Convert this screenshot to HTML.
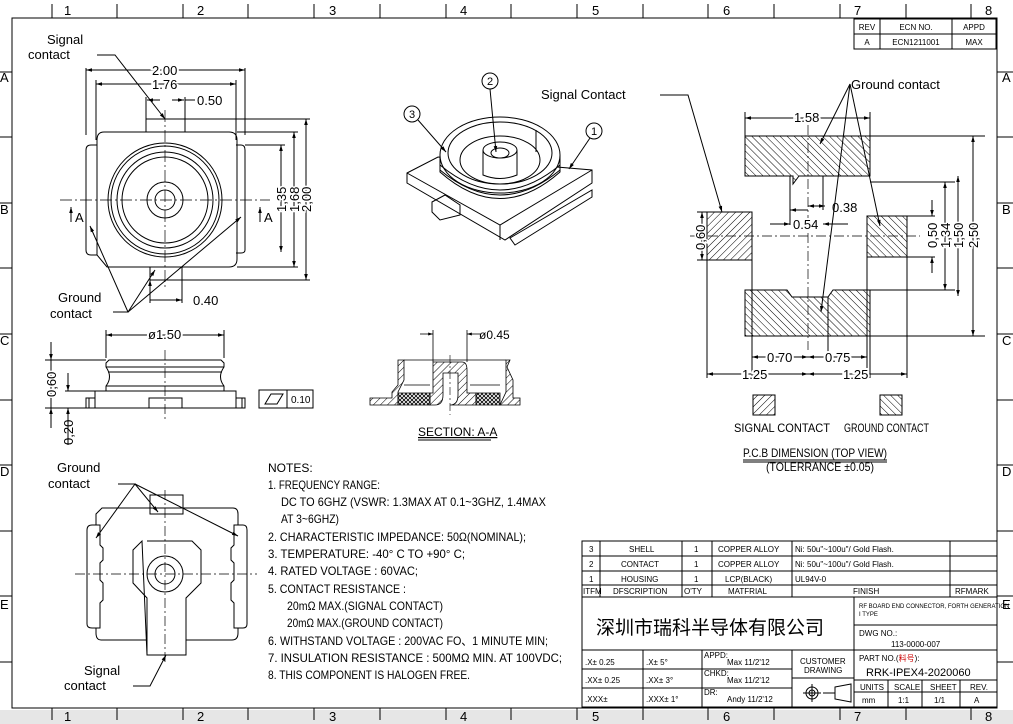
<!DOCTYPE html>
<html><head><meta charset="utf-8"><style>
html,body{margin:0;padding:0;background:#fff}
svg{display:block}
text{font-family:"Liberation Sans","Noto Sans CJK SC",sans-serif;fill:#000}
.n{font-family:"Liberation Sans Narrow","Liberation Sans",sans-serif}
</style></head><body>
<svg width="1013" height="724" viewBox="0 0 1013 724" xmlns="http://www.w3.org/2000/svg">
<defs>
<pattern id="hs" width="5" height="5" patternUnits="userSpaceOnUse" patternTransform="rotate(45)"><line x1="0" y1="0" x2="0" y2="5" stroke="#000" stroke-width="1"/></pattern>
<pattern id="hg" width="5" height="5" patternUnits="userSpaceOnUse" patternTransform="rotate(-45)"><line x1="0" y1="0" x2="0" y2="5" stroke="#000" stroke-width="1"/></pattern>
<pattern id="hx" width="4" height="4" patternUnits="userSpaceOnUse"><path d="M0 0L4 4M4 0L0 4" stroke="#000" stroke-width="0.8"/></pattern>
<marker id="a" viewBox="0 0 10 10" refX="10" refY="5" markerWidth="8" markerHeight="6" orient="auto-start-reverse"><path d="M0 2L10 5L0 8z" fill="#000"/></marker>
</defs>
<rect x="0" y="710" width="1013" height="14" fill="#e6e6e6"/>
<g fill="none" stroke="#000" stroke-width="1">
<rect x="12" y="18" width="985" height="690"/>
<path d="M52 4V18M117 4V18M183 4V18M248 4V18M314 4V18M380 4V18M446 4V18M511 4V18M577 4V18M643 4V18M708 4V18M774 4V18M840 4V18M906 4V18M971 4V18"/>
<path d="M52 708V720M117 708V720M183 708V720M248 708V720M314 708V720M380 708V720M446 708V720M511 708V720M577 708V720M643 708V720M708 708V720M774 708V720M840 708V720M906 708V720M971 708V720"/>
<path d="M0 72H12M0 137H12M0 203H12M0 268H12M0 334H12M0 400H12M0 465H12M0 531H12M0 596H12M0 662H12"/>
<path d="M997 72H1013M997 137H1013M997 203H1013M997 268H1013M997 334H1013M997 400H1013M997 465H1013M997 531H1013M997 596H1013M997 662H1013"/>
<rect x="854" y="19" width="142" height="30"/><path d="M854 34H996M880 19V49M952 19V49"/>
</g>
<g font-size="13" class="n">
<text x="64" y="15">1</text><text x="197" y="15">2</text><text x="329" y="15">3</text><text x="460" y="15">4</text><text x="592" y="15">5</text><text x="723" y="15">6</text><text x="854" y="15">7</text><text x="985" y="15">8</text>
<text x="64" y="721">1</text><text x="197" y="721">2</text><text x="329" y="721">3</text><text x="460" y="721">4</text><text x="592" y="721">5</text><text x="723" y="721">6</text><text x="854" y="721">7</text><text x="985" y="721">8</text>
<text x="1002" y="82">A</text><text x="1002" y="214">B</text><text x="1002" y="345">C</text><text x="1002" y="476">D</text><text x="1002" y="609">E</text>
<text x="0" y="82">A</text><text x="0" y="214">B</text><text x="0" y="345">C</text><text x="0" y="476">D</text><text x="0" y="609">E</text>
</g>
<g font-size="8" text-anchor="middle"><text x="867" y="30">REV</text><text x="916" y="30">ECN NO.</text><text x="974" y="30">APPD</text><text x="867" y="45">A</text><text x="916" y="45">ECN1211001</text><text x="974" y="45">MAX</text></g>

<!-- TOP-LEFT VIEW -->
<g fill="none" stroke="#000" stroke-width="1">
<path d="M86 150Q86 145 91 145H97V255H91Q86 255 86 250Z"/>
<path d="M236 145H241Q245 145 245 150V250Q245 253 241 253H236"/>
<path d="M104 132H229Q237 132 237 140V259Q237 267 229 267H107L97 255V140Q97 132 104 132Z"/>
<rect x="146" y="119" width="39" height="13"/>
<rect x="150" y="267" width="32" height="13"/>
<circle cx="165" cy="200" r="57"/><circle cx="165" cy="200" r="54"/><circle cx="165" cy="200" r="48"/><circle cx="165" cy="200" r="43"/>
<circle cx="165" cy="200" r="18"/><circle cx="165" cy="200" r="10"/>
<path d="M165 110V290M60 200H270" stroke-dasharray="12 3 2 3" stroke-width="0.7"/>
<path d="M86 135V68M245 135V68M96 140V80M236 140V80M146 119V97M185 119V97"/>
<path d="M86 70H245" marker-start="url(#a)" marker-end="url(#a)"/>
<path d="M96 84H236" marker-start="url(#a)" marker-end="url(#a)"/>
<path d="M160 100H147" marker-end="url(#a)"/><path d="M172 100H184" marker-end="url(#a)"/><path d="M185 100H195"/>
<path d="M185 119H310M237 132H298M245 145H285M237 267H298M182 280H310"/>
<path d="M281 145V252" marker-start="url(#a)" marker-end="url(#a)"/>
<path d="M294 132V267" marker-start="url(#a)" marker-end="url(#a)"/>
<path d="M306 119V280" marker-start="url(#a)" marker-end="url(#a)"/>
<path d="M150 280V303M182 280V303M150 300H182" marker-start="url(#a)" marker-end="url(#a)"/>
<path d="M71 222V207" marker-end="url(#a)"/><path d="M260 222V207" marker-end="url(#a)"/>
<path d="M97 55H115L165 119" marker-end="url(#a)"/>
<path d="M113 312H128L90 226" marker-end="url(#a)"/><path d="M128 312L155 270" marker-end="url(#a)"/><path d="M128 312L241 217" marker-end="url(#a)"/>
</g>
<g font-size="13" class="n">
<text x="152" y="75" stroke="#fff" stroke-width="4" style="paint-order:stroke">2.00</text>
<text x="152" y="89" stroke="#fff" stroke-width="4" style="paint-order:stroke">1.76</text>
<text x="197" y="105">0.50</text><text x="193" y="305">0.40</text>
<text x="75" y="222">A</text><text x="264" y="222">A</text>
<text transform="translate(286,212) rotate(-90)" stroke="#fff" stroke-width="3" style="paint-order:stroke">1,35</text>
<text transform="translate(299,212) rotate(-90)" stroke="#fff" stroke-width="3" style="paint-order:stroke">1,68</text>
<text transform="translate(311,212) rotate(-90)" stroke="#fff" stroke-width="3" style="paint-order:stroke">2,00</text>
</g>
<g font-size="13"><text x="47" y="44">Signal</text><text x="28" y="59">contact</text><text x="58" y="302">Ground</text><text x="50" y="318">contact</text></g>

<!-- ISO VIEW -->
<g fill="none" stroke="#000" stroke-width="1">
<path d="M407 173L438 157L592 170L592 183L505 240L407 183Z" fill="#fff"/>
<path d="M407 173L500 225L592 170M500 225V240"/>
<path d="M432 202L445 195L460 205V215L440 220L432 212Z"/>
<path d="M510 238L592 190L592 197L515 245Z"/>
<ellipse cx="500" cy="155" rx="60" ry="38" fill="#fff"/>
<path d="M440 155V172Q500 225 560 172V155"/>
<path d="M440 165Q500 215 560 165M440 170Q500 220 560 170"/>
<ellipse cx="500" cy="153" rx="52" ry="31"/>
<ellipse cx="500" cy="160" rx="40" ry="24"/>
<path d="M483 150V175Q500 182 517 175V150"/><ellipse cx="500" cy="150" rx="17" ry="8" fill="#fff"/><ellipse cx="500" cy="153" rx="9" ry="5"/>
<path d="M536 130V152"/>
<circle cx="490" cy="81" r="8"/><circle cx="412" cy="114" r="8"/><circle cx="594" cy="131" r="8"/>
<path d="M490 89L496 152" marker-end="url(#a)"/><path d="M418 120L446 152" marker-end="url(#a)"/><path d="M590 138L569 169" marker-end="url(#a)"/>
</g>
<g font-size="11" text-anchor="middle"><text x="490" y="85">2</text><text x="412" y="118">3</text><text x="594" y="135">1</text></g>

<!-- SIDE VIEW -->
<g fill="none" stroke="#000" stroke-width="1">
<path d="M95 391H236V408H95Z"/>
<path d="M106 363L109 360H221L224 363V367Q217 377 224 386V391H106V386Q113 377 106 367Z"/>
<path d="M106 367H224M106 386H224M108 372H222"/>
<path d="M86 398H95V408H86ZM89 398V408M236 398H245V408H236ZM242 398V408"/>
<rect x="149" y="398" width="33" height="10"/>
<path d="M165 350V420" stroke-dasharray="10 3 2 3" stroke-width="0.7"/>
<path d="M45 360H106M45 408H90M65 391H95"/>
<path d="M51 342V360" marker-end="url(#a)"/><path d="M51 428V408" marker-end="url(#a)"/><path d="M51 360V408"/>
<path d="M68 373V391" marker-end="url(#a)"/><path d="M68 428V408" marker-end="url(#a)"/><path d="M68 445V428"/>
<path d="M106 358V330M224 358V330"/><path d="M106 335H224" marker-start="url(#a)" marker-end="url(#a)"/>
<rect x="259" y="390" width="28" height="18"/><rect x="287" y="390" width="26" height="18"/>
<path d="M265 404L271 394H283L277 404Z"/>
</g>
<g font-size="13" class="n">
<text x="148" y="339" stroke="#fff" stroke-width="4" style="paint-order:stroke">ø1.50</text>
<text transform="translate(56,397) rotate(-90)" stroke="#fff" stroke-width="3" style="paint-order:stroke">0,60</text>
<text transform="translate(73,445) rotate(-90)">0,20</text>
<text x="291" y="403" font-size="10">0.10</text>
</g>

<!-- SECTION A-A -->
<g stroke="#000" stroke-width="0.8">
<path d="M370 398H392V392L398 385V360H404V380L398 392V405H370Z" fill="url(#hs)"/>
<path d="M398 393L430 393V405H398Z" fill="url(#hx)"/>
<path d="M433 362H462Q467 362 467 370V393H476V405H450Q458 405 458 395V373H443V395Q443 405 435 405H430V393H433Z" fill="url(#hs)"/>
<path d="M476 393H500V405H476Z" fill="url(#hx)"/>
<path d="M506 360H510L507 367L513 380V398H520V405H500L506 392Z" fill="url(#hs)"/>
<path d="M404 360H506M404 385H430M470 385H500" fill="none"/>
<path d="M450 355V415" fill="none" stroke-dasharray="8 3 2 3" stroke-width="0.6"/>
<path d="M433 362V330M467 362V330" fill="none"/>
<path d="M420 334H433" marker-end="url(#a)" fill="none"/><path d="M480 334H467" marker-end="url(#a)" fill="none"/>
</g>
<text x="479" y="339" font-size="12" class="n">ø0.45</text>
<text x="418" y="436" font-size="12" class="n" text-decoration="underline">SECTION: A-A</text>
<path d="M418 440H491" stroke="#000"/>

<!-- BOTTOM VIEW -->
<g fill="none" stroke="#000" stroke-width="1">
<path d="M150 495H183V514H150Z"/>
<path d="M109 508H233Q238 508 238 514V525H243Q247 525 247 530V624Q247 628 243 628H238V633Q238 640 232 640H186V655H147V640H101Q96 640 96 633V628H92Q87 628 87 624V530Q87 525 92 525H96V514L102 508Z"/>
<path d="M96 525H100V545L103 548V560L100 563V580L103 583V600L100 603V628H96M238 525H234V545L231 548V560L234 563V580L231 583V600L234 603V628H238"/>
<path d="M147 541H192L201 550V583L186 598V655M147 655V598L133 583V550L142 541Z"/>
<circle cx="165" cy="574" r="18"/><circle cx="165" cy="574" r="10"/>
<path d="M165 490V665M75 574H257" stroke-dasharray="10 3 2 3" stroke-width="0.7"/>
<path d="M118 484H135L96 538" marker-end="url(#a)"/><path d="M135 484L158 512" marker-end="url(#a)"/><path d="M135 484L238 536" marker-end="url(#a)"/>
<path d="M133 686H150L166 655" marker-end="url(#a)"/>
</g>
<g font-size="13"><text x="57" y="472">Ground</text><text x="48" y="488">contact</text><text x="84" y="675">Signal</text><text x="64" y="690">contact</text></g>

<!-- NOTES -->
<g font-size="12" class="n">
<text x="268" y="472">NOTES:</text>
<text x="268" y="489" textLength="112" lengthAdjust="spacingAndGlyphs">1. FREQUENCY RANGE:</text>
<text x="281" y="506" textLength="265" lengthAdjust="spacingAndGlyphs">DC TO 6GHZ (VSWR: 1.3MAX AT 0.1~3GHZ, 1.4MAX</text>
<text x="281" y="523" textLength="58" lengthAdjust="spacingAndGlyphs">AT 3~6GHZ)</text>
<text x="268" y="541" textLength="258" lengthAdjust="spacingAndGlyphs">2. CHARACTERISTIC IMPEDANCE: 50Ω(NOMINAL);</text>
<text x="268" y="558" textLength="197" lengthAdjust="spacingAndGlyphs">3. TEMPERATURE: -40° C TO +90° C;</text>
<text x="268" y="575" textLength="150" lengthAdjust="spacingAndGlyphs">4. RATED VOLTAGE : 60VAC;</text>
<text x="268" y="593" textLength="138" lengthAdjust="spacingAndGlyphs">5. CONTACT RESISTANCE :</text>
<text x="287" y="610" textLength="156" lengthAdjust="spacingAndGlyphs">20mΩ MAX.(SIGNAL CONTACT)</text>
<text x="287" y="627" textLength="156" lengthAdjust="spacingAndGlyphs">20mΩ MAX.(GROUND CONTACT)</text>
<text x="268" y="645" textLength="280" lengthAdjust="spacingAndGlyphs">6. WITHSTAND VOLTAGE : 200VAC FO、1 MINUTE MIN;</text>
<text x="268" y="662" textLength="294" lengthAdjust="spacingAndGlyphs">7. INSULATION RESISTANCE : 500MΩ MIN. AT 100VDC;</text>
<text x="268" y="679" textLength="202" lengthAdjust="spacingAndGlyphs">8. THIS COMPONENT IS HALOGEN FREE.</text>
</g>

<!-- PCB -->
<g stroke="#000" stroke-width="1">
<path d="M745 136H870V176H799L793 184V176H745Z" fill="url(#hg)"/>
<rect x="707" y="212" width="45" height="48" fill="url(#hs)"/>
<rect x="867" y="216" width="40" height="41" fill="url(#hg)"/>
<path d="M745 290H787L792 297H828L833 290H870V336H745Z" fill="url(#hg)"/>
<rect x="753" y="395" width="22" height="20" fill="url(#hs)"/>
<rect x="880" y="395" width="22" height="20" fill="url(#hg)"/>
</g>
<g fill="none" stroke="#000" stroke-width="1">
<path d="M808 125V350M690 236H920" stroke-dasharray="10 3 2 3" stroke-width="0.7"/>
<path d="M745 112V136M870 112V136"/><path d="M745 118H870" marker-start="url(#a)" marker-end="url(#a)"/>
<path d="M790 176V225M823 176V210M828 297V360M752 260V378M707 260V378M867 257V370M907 257V378M870 336V378"/>
<path d="M790 210H808" marker-start="url(#a)"/><path d="M825 206H808" marker-start="url(#a)" marker-end="url(#a)"/>
<path d="M770 224H790" marker-end="url(#a)"/><path d="M848 224H823" marker-end="url(#a)"/>
<path d="M752 357H808" marker-start="url(#a)" marker-end="url(#a)"/><path d="M808 357H867" marker-start="url(#a)" marker-end="url(#a)"/>
<path d="M707 374H808" marker-start="url(#a)" marker-end="url(#a)"/><path d="M808 374H907" marker-start="url(#a)" marker-end="url(#a)"/>
<path d="M870 136H985M870 336H985M907 216H935M907 257H935M870 182H955M870 290H955"/>
<path d="M932 200V216" marker-end="url(#a)"/><path d="M932 273V257" marker-end="url(#a)"/>
<path d="M945 182V290" marker-start="url(#a)" marker-end="url(#a)"/>
<path d="M958 176V296" marker-start="url(#a)" marker-end="url(#a)"/>
<path d="M973 136V336" marker-start="url(#a)" marker-end="url(#a)"/>
<path d="M697 212H707M697 260H707"/><path d="M702 212V260" marker-start="url(#a)" marker-end="url(#a)"/>
<path d="M660 95H688L722 212" marker-end="url(#a)"/>
<path d="M850 84L820 144" marker-end="url(#a)"/><path d="M850 84L821 312" marker-end="url(#a)"/><path d="M850 84L880 226" marker-end="url(#a)"/>
<path d="M743 460H887M743 462H887"/>
</g>
<g font-size="13" class="n">
<text x="794" y="122" stroke="#fff" stroke-width="4" style="paint-order:stroke">1.58</text>
<text x="832" y="212">0.38</text><text x="793" y="229" stroke="#fff" stroke-width="4" style="paint-order:stroke">0.54</text>
<text x="767" y="362" stroke="#fff" stroke-width="4" style="paint-order:stroke">0.70</text><text x="825" y="362" stroke="#fff" stroke-width="4" style="paint-order:stroke">0.75</text>
<text x="742" y="379" stroke="#fff" stroke-width="4" style="paint-order:stroke">1.25</text><text x="843" y="379" stroke="#fff" stroke-width="4" style="paint-order:stroke">1.25</text>
<text transform="translate(705,250) rotate(-90)" stroke="#fff" stroke-width="3" style="paint-order:stroke">0,60</text>
<text transform="translate(937,248) rotate(-90)" stroke="#fff" stroke-width="3" style="paint-order:stroke">0,50</text>
<text transform="translate(950,248) rotate(-90)" stroke="#fff" stroke-width="3" style="paint-order:stroke">1,34</text>
<text transform="translate(963,248) rotate(-90)" stroke="#fff" stroke-width="3" style="paint-order:stroke">1,50</text>
<text transform="translate(978,248) rotate(-90)" stroke="#fff" stroke-width="3" style="paint-order:stroke">2,50</text>
<text x="734" y="432" font-size="12" textLength="96" lengthAdjust="spacingAndGlyphs">SIGNAL CONTACT</text><text x="844" y="432" font-size="12" textLength="85" lengthAdjust="spacingAndGlyphs">GROUND CONTACT</text>
<text x="743" y="457" font-size="12" textLength="144" lengthAdjust="spacingAndGlyphs">P.C.B DIMENSION (TOP VIEW)</text>
<text x="766" y="471" font-size="12" textLength="108" lengthAdjust="spacingAndGlyphs">(TOLERRANCE ±0.05)</text>
</g>
<g font-size="13"><text x="541" y="99">Signal Contact</text><text x="851" y="89">Ground contact</text></g>

<!-- TITLE BLOCK -->
<g fill="none" stroke="#000" stroke-width="1">
<rect x="582" y="541" width="415" height="166"/>
<path d="M582 556H997M582 571H997M582 585H997M582 597H997M600 541V597M682 541V597M712 541V597M792 541V597M950 541V597"/>
<path d="M854 597V707M854 625H997M854 650H997"/>
<path d="M582 650H854M582 669H792M582 688H792M643 650V707M702 650V707M792 650V707M792 678H854"/>
<path d="M854 680H997M854 692H997M888 680V707M922 680V707M960 680V707"/>
<circle cx="812" cy="693" r="6"/><circle cx="812" cy="693" r="3"/><path d="M803 693H821M812 684V702M823 693H835M835 687L851 684V702L835 699Z"/>
</g>
<g font-size="8" class="n">
<text x="589" y="552">3</text><text x="629" y="552">SHELL</text><text x="694" y="552">1</text><text x="718" y="552">COPPER ALLOY</text><text x="795" y="552">Ni: 50u"~100u"/ Gold Flash.</text>
<text x="589" y="567">2</text><text x="621" y="567">CONTACT</text><text x="694" y="567">1</text><text x="718" y="567">COPPER ALLOY</text><text x="795" y="567">Ni: 50u"~100u"/ Gold Flash.</text>
<text x="589" y="582">1</text><text x="621" y="582">HOUSING</text><text x="694" y="582">1</text><text x="725" y="582">LCP(BLACK)</text><text x="795" y="582">UL94V-0</text>
<text x="583" y="594">ITFM</text><text x="613" y="594">DFSCRIPTION</text><text x="684" y="594">O'TY</text><text x="728" y="594">MATFRIAL</text><text x="853" y="594">FINISH</text><text x="955" y="594">RFMARK</text>
<text x="859" y="608" font-size="6" font-family="Liberation Serif" fill="#c00">RF BOARD END CONNECTOR, FORTH GENERATION</text>
<text x="859" y="616" font-size="6" font-family="Liberation Serif" fill="#c00">I TYPE</text>
<text x="859" y="636">DWG NO.:</text><text x="891" y="647">113-0000-007</text>
<text x="859" y="661">PART NO.(<tspan fill="#c00">料号</tspan>):</text>
<text x="866" y="676" font-size="11" font-family="Liberation Serif" fill="#c00">RRK-IPEX4-2020060</text>
<text x="860" y="690">UNITS</text><text x="894" y="690">SCALE</text><text x="930" y="690">SHEET</text><text x="970" y="690">REV.</text>
<text x="862" y="703">mm</text><text x="898" y="703">1:1</text><text x="934" y="703">1/1</text><text x="974" y="703">A</text>
<text x="585" y="665">.X±  0.25</text><text x="646" y="665">.X±  5°</text><text x="704" y="658">APPD:</text><text x="727" y="665">Max 11/2'12</text>
<text x="585" y="683">.XX± 0.25</text><text x="646" y="683">.XX±  3°</text><text x="704" y="676">CHKD:</text><text x="727" y="683">Max 11/2'12</text>
<text x="585" y="702">.XXX±</text><text x="646" y="702">.XXX±  1°</text><text x="704" y="695">DR:</text><text x="727" y="702">Andy 11/2'12</text>
<text x="800" y="664">CUSTOMER</text><text x="804" y="673">DRAWING</text>
</g>
<text x="596" y="634" font-size="19" font-family="'Noto Serif CJK SC','Noto Sans CJK SC',serif" fill="#333">深圳市瑞科半导体有限公司</text>
</svg>
</body></html>
